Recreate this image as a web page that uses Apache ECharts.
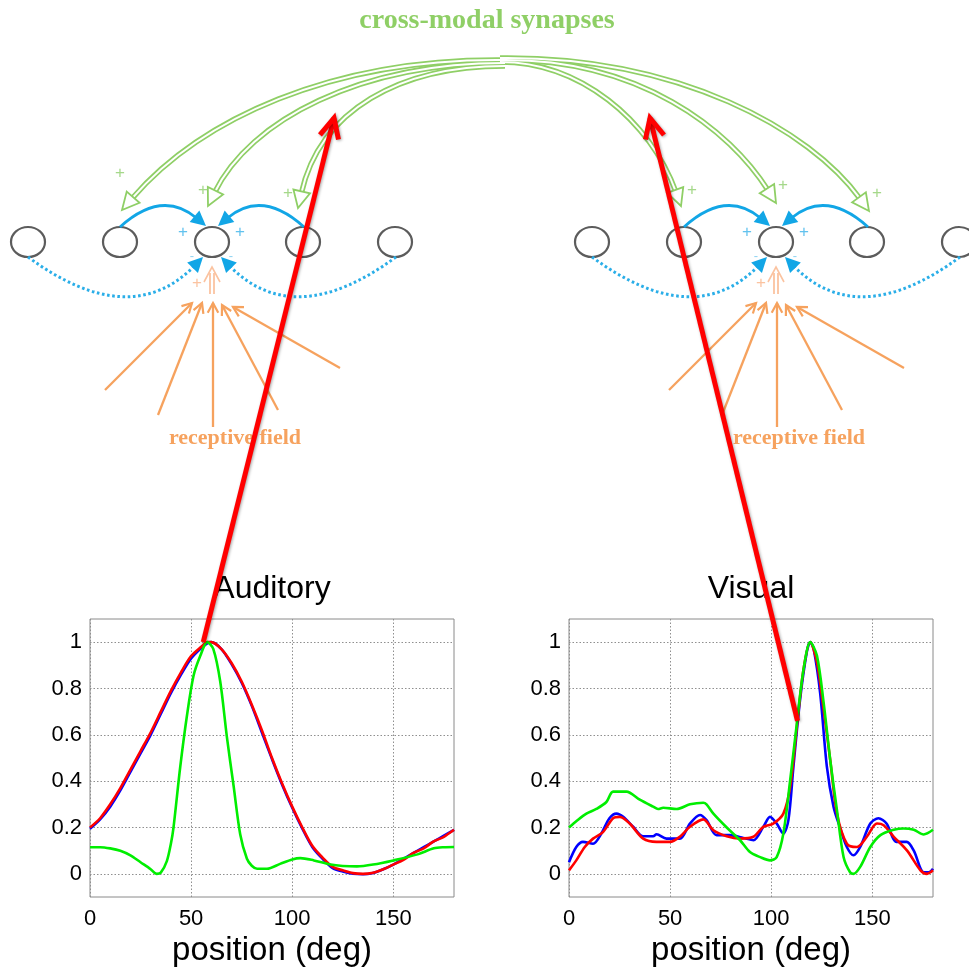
<!DOCTYPE html>
<html><head><meta charset="utf-8">
<script src="https://cdn.jsdelivr.net/npm/echarts@6/dist/echarts.min.js"></script>
<style>html,body{margin:0;padding:0;background:#fff}#c{width:969px;height:974px}</style>
</head><body><div id="c"></div>
<script>
// ---------------- data ----------------
const panelTitles = ['Auditory', 'Visual'];
const xAxisName = 'position (deg)';
const xTicks = [0, 50, 100, 150];
const yTicks = [0, 0.2, 0.4, 0.6, 0.8, 1];

const audX = [0,5,10,15,20,25,30,35,40,45,50,55,58,60,65,70,75,80,85,90,95,100,105,110,115,120,125,130,135,140,145,150,155,160,165,170,175,180];
const audRed = [0.20,0.24,0.30,0.37,0.45,0.53,0.61,0.70,0.79,0.87,0.94,0.98,1.0,1.0,0.97,0.91,0.83,0.73,0.62,0.50,0.39,0.29,0.20,0.12,0.07,0.03,0.015,0.003,0,0.005,0.02,0.04,0.06,0.09,0.11,0.14,0.16,0.19];
const audBlue = [0.195,0.235,0.29,0.36,0.44,0.52,0.60,0.69,0.78,0.86,0.93,0.975,0.995,1.0,0.97,0.905,0.825,0.725,0.61,0.495,0.385,0.285,0.195,0.115,0.065,0.025,0.01,0.0,-0.002,0.004,0.02,0.04,0.065,0.09,0.115,0.14,0.165,0.19];
const audGreen = [[0,0.115],[5,0.115],[10,0.11],[15,0.1],[20,0.08],[25,0.05],[30,0.02],[33,0.0],[35,0.005],[38,0.055],[40,0.13],[41.3,0.2],[44.6,0.46],[47.9,0.68],[51.2,0.855],[54.5,0.94],[58,1.0],[61,0.97],[64.4,0.83],[67.7,0.59],[71,0.38],[74.3,0.17],[77.6,0.065],[80,0.035],[82.6,0.022],[87.5,0.022],[94,0.043],[100,0.062],[104,0.068],[110.7,0.058],[119,0.04],[125,0.034],[132,0.032],[140,0.04],[150,0.058],[162,0.084],[170,0.11],[175,0.115],[180,0.116]];

const visBlue = [[0,0.05],[3.6,0.116],[6.9,0.138],[11.9,0.13],[16,0.174],[20,0.24],[23.5,0.26],[26.8,0.246],[31.7,0.203],[36.7,0.162],[41.6,0.162],[43.3,0.171],[48.2,0.152],[54.8,0.152],[59.8,0.217],[64.8,0.254],[68,0.232],[73,0.167],[79.6,0.167],[86.2,0.155],[91.2,0.145],[96.1,0.203],[99.4,0.246],[102.7,0.217],[106,0.174],[108.5,0.232],[111,0.464],[114.3,0.754],[117.6,0.957],[119.3,1.0],[121,0.97],[124.2,0.78],[127.5,0.464],[130.8,0.29],[134,0.2],[137.4,0.116],[140.7,0.08],[144,0.116],[149,0.217],[153,0.24],[157,0.217],[162,0.138],[167,0.138],[170.5,0.1],[175.4,0.007],[178,0.007],[180,0.022]];
const visRed = [[0,0.015],[3.6,0.058],[7.8,0.116],[11.9,0.152],[16.8,0.18],[21.8,0.24],[25.1,0.246],[30,0.217],[36.7,0.152],[43.3,0.138],[49.9,0.138],[54.8,0.16],[59.8,0.203],[66.4,0.235],[71.4,0.188],[78,0.162],[84.6,0.152],[91.2,0.16],[96.1,0.203],[101,0.217],[106,0.26],[109.4,0.377],[112.7,0.638],[116,0.884],[119.3,1.0],[122.6,0.913],[125.9,0.71],[129.2,0.49],[132.5,0.26],[137.4,0.13],[142.4,0.116],[147.3,0.16],[152.3,0.217],[155.6,0.21],[160.6,0.16],[167.2,0.1],[173.8,0.015],[177,0],[180,0.015]];
const visGreen = [[0,0.2],[4,0.23],[8.6,0.26],[13.5,0.28],[18.5,0.31],[21.8,0.355],[28.4,0.355],[35,0.32],[41.6,0.29],[44,0.28],[46.6,0.285],[53.2,0.28],[59.8,0.3],[66.4,0.307],[68,0.3],[71.4,0.26],[78,0.2],[84.6,0.145],[89.5,0.094],[94.5,0.072],[99.4,0.058],[102.7,0.072],[106,0.174],[109.4,0.406],[112.7,0.652],[116,0.884],[119.3,1.0],[122.6,0.942],[125.9,0.74],[129.2,0.49],[132.5,0.275],[135.8,0.072],[139,0.007],[140.7,0],[144,0.03],[149,0.116],[154,0.167],[160.6,0.19],[165.5,0.196],[170.5,0.19],[175.4,0.17],[180,0.19]];

// points on the curves where the red arrows start (data coords)
const redArrowFrom = [[56, 1.0], [113, 0.66]];

// diagram labels
const diagramTitle = 'cross-modal synapses';
const rfLabel = 'receptive field';

// ---------------- chart ----------------
const chart = echarts.init(document.getElementById('c'), null, {renderer: 'canvas'});
const FONT = 'Liberation Sans, Arial, sans-serif';
const SERIF = 'Liberation Serif, Times New Roman, serif';

const grids = [
  {left: 90, top: 619, width: 364, height: 278},
  {left: 569, top: 619, width: 364, height: 278}
];

function lineSeries(idx, data, color, z) {
  return {type: 'line', xAxisIndex: idx, yAxisIndex: idx, data: data, showSymbol: false,
    smooth: 0.3, z: z, lineStyle: {color: color, width: 2.6}, itemStyle: {color: color}};
}

const option = {
  animation: false,
  backgroundColor: '#fff',
  title: panelTitles.map((t, i) => ({
    text: t, left: grids[i].left + grids[i].width / 2, top: 573, textAlign: 'center', padding: 0,
    textStyle: {fontSize: 32, fontWeight: 'normal', color: '#000', fontFamily: FONT}
  })),
  grid: grids.map(g => Object.assign({show: true, borderColor: '#8a8a8a', borderWidth: 1, containLabel: false}, g)),
  xAxis: [0, 1].map(i => ({
    type: 'value', gridIndex: i, min: 0, max: 180,
    axisLine: {show: false}, axisTick: {show: false, customValues: xTicks},
    axisLabel: {customValues: xTicks, fontSize: 22, color: '#000', margin: 11, fontFamily: FONT},
    splitLine: {show: true, lineStyle: {type: [1.5, 2], color: '#8f8f8f', width: 1}},
    name: xAxisName, nameLocation: 'middle', nameGap: 37,
    nameTextStyle: {fontSize: 33, color: '#000', fontFamily: FONT}
  })),
  yAxis: [0, 1].map(i => ({
    type: 'value', gridIndex: i, min: -0.1, max: 1.1,
    axisLine: {show: false}, axisTick: {show: false, customValues: yTicks},
    axisLabel: {customValues: yTicks, fontSize: 22, color: '#000', margin: 8, fontFamily: FONT},
    splitLine: {show: true, lineStyle: {type: [1.5, 2], color: '#8f8f8f', width: 1}}
  })),
  series: [
    lineSeries(0, audX.map((x, k) => [x, audBlue[k]]), '#0000ff', 2),
    lineSeries(0, audX.map((x, k) => [x, audRed[k]]), '#ff0000', 3),
    lineSeries(0, audGreen, '#00ee00', 4),
    lineSeries(1, visBlue, '#0000ff', 2),
    lineSeries(1, visRed, '#ff0000', 3),
    lineSeries(1, visGreen, '#00ee00', 4)
  ]
};
chart.setOption(option);

// ---------------- diagram (graphic) ----------------
const GREEN = '#8fcf66', BLUE = '#12a6e6', ORANGE = '#f6a25e', PALE = '#fbc3a0', GRAY = '#5c5c5c';
const els = [];
function unit(fx, fy, tx, ty) { const dx = tx - fx, dy = ty - fy, d = Math.hypot(dx, dy); return [dx / d, dy / d]; }
function tri(tx, ty, fx, fy, len, hw) {
  const [ux, uy] = unit(fx, fy, tx, ty); const bx = tx - ux * len, by = ty - uy * len;
  return [[tx, ty], [bx - uy * hw, by + ux * hw], [bx + uy * hw, by - ux * hw]];
}
function vHead(tx, ty, fx, fy, len, ang) {
  const [ux, uy] = unit(fx, fy, tx, ty); const c = Math.cos(ang), s = Math.sin(ang);
  const a = [tx - len * (ux * c - uy * s), ty - len * (uy * c + ux * s)];
  const b = [tx - len * (ux * c + uy * s), ty - len * (uy * c - ux * s)];
  return [a, [tx, ty], b];
}
function txt(x, y, t, size, color, font, weight, z) {
  els.push({type: 'text', x: x, y: y, z: z || 10, style: {text: t, fontSize: size, fill: color,
    fontFamily: font || FONT, fontWeight: weight || 'normal', align: 'center', verticalAlign: 'middle'}});
}

function network(cx) {
  const cy = 242;
  // blue solid arcs (top)
  [-1, 1].forEach(sgn => {
    const sx = cx + sgn * 92, sy = 227, cpx = cx + sgn * 50, cpy = 189, tx = cx + sgn * 6, ty = 226;
    const [ux, uy] = unit(cpx, cpy, tx, ty); const ex = tx - ux * 12, ey = ty - uy * 12;
    els.push({type: 'bezierCurve', z: 8, shape: {x1: sx, y1: sy, x2: ex, y2: ey, cpx1: cpx, cpy1: cpy},
      style: {stroke: BLUE, lineWidth: 2.8, fill: null}});
    els.push({type: 'polygon', z: 9, shape: {points: tri(tx, ty, cpx, cpy, 15, 7.5)}, style: {fill: BLUE}});
  });
  // blue dotted arcs (bottom)
  [-1, 1].forEach(sgn => {
    const sx = cx + sgn * 184, sy = 257, cpx = cx + sgn * 82, cpy = 332, tx = cx + sgn * 9, ty = 257;
    const [ux, uy] = unit(cpx, cpy, tx, ty); const ex = tx - ux * 12, ey = ty - uy * 12;
    els.push({type: 'bezierCurve', z: 8, shape: {x1: sx, y1: sy, x2: ex, y2: ey, cpx1: cpx, cpy1: cpy},
      style: {stroke: '#2aaee8', lineWidth: 3, lineDash: [2.6, 2.6], fill: null}});
    els.push({type: 'polygon', z: 9, shape: {points: tri(tx, ty, cpx, cpy, 15, 7.5)}, style: {fill: BLUE}});
  });
  // neurons
  [-184, -92, 0, 91, 183].forEach(d => {
    els.push({type: 'ellipse', z: 7, shape: {cx: cx + d, cy: cy, rx: 17, ry: 15},
      style: {fill: '#fff', stroke: GRAY, lineWidth: 2.2}});
  });
  // blue + and - signs
  txt(cx - 29, 232, '+', 17, '#62c2ee');
  txt(cx + 28, 232, '+', 17, '#62c2ee');
  txt(cx - 20, 256, '-', 13, '#8fd3f2');
  txt(cx + 19, 256, '-', 13, '#8fd3f2');
  // pale orange double-arrow (external input)
  els.push({type: 'polyline', z: 8, shape: {points: [[cx - 2, 294], [cx - 2, 273]]}, style: {stroke: PALE, lineWidth: 1.8}});
  els.push({type: 'polyline', z: 8, shape: {points: [[cx + 2, 294], [cx + 2, 273]]}, style: {stroke: PALE, lineWidth: 1.8}});
  els.push({type: 'polyline', z: 8, shape: {points: [[cx - 8, 282], [cx, 267], [cx + 8, 282]]}, style: {stroke: PALE, lineWidth: 1.6, fill: null}});
  txt(cx - 15, 283, '+', 17, PALE);
  // orange receptive-field lines
  const rf = [[-107, 148, -20, 61], [-54, 173, -10, 61], [1, 185, 1, 61], [66, 168, 10, 63], [128, 126, 21, 65]];
  rf.forEach(([a, b, c, d]) => {
    const fx = cx + a, fy = cy + b, tx = cx + c, ty = cy + d;
    els.push({type: 'polyline', z: 8, shape: {points: [[fx, fy], [tx, ty]]}, style: {stroke: ORANGE, lineWidth: 2.3}});
    els.push({type: 'polyline', z: 8, shape: {points: vHead(tx, ty, fx, fy, 11, 0.5)}, style: {stroke: ORANGE, lineWidth: 2.2, fill: null}});
  });
  txt(cx + 23, 438, rfLabel, 22, ORANGE, SERIF, 'bold');
}
network(212);
network(776);

// green cross-modal arcs: start, cp1, cp2, tip
const gArcs = [
  [[505, 60], [330, 58], [200, 120], [122, 210]],
  [[505, 63], [360, 63], [250, 120], [208, 206]],
  [[505, 66], [400, 66], [320, 110], [298, 208]],
  [[500, 62], [580, 62], [650, 120], [681, 206]],
  [[500, 60], [640, 58], [730, 130], [776, 203]],
  [[500, 58], [680, 56], [810, 130], [869, 211]]
];
const gParts = gArcs.map(([s, c1, c2, t]) => {
  const [ux, uy] = unit(c2[0], c2[1], t[0], t[1]);
  const e = [t[0] - ux * 15, t[1] - uy * 15];
  return {s, c1, c2, t, e};
});
gParts.forEach(p => els.push({type: 'bezierCurve', z: 5, shape: {x1: p.s[0], y1: p.s[1], x2: p.e[0], y2: p.e[1],
  cpx1: p.c1[0], cpy1: p.c1[1], cpx2: p.c2[0], cpy2: p.c2[1]}, style: {stroke: GREEN, lineWidth: 5.4, fill: null}}));
gParts.forEach(p => els.push({type: 'bezierCurve', z: 6, shape: {x1: p.s[0], y1: p.s[1], x2: p.e[0], y2: p.e[1],
  cpx1: p.c1[0], cpy1: p.c1[1], cpx2: p.c2[0], cpy2: p.c2[1]}, style: {stroke: '#fff', lineWidth: 2, fill: null}}));
gParts.forEach(p => els.push({type: 'polygon', z: 6, shape: {points: tri(p.t[0], p.t[1], p.c2[0], p.c2[1], 17, 8.5)},
  style: {fill: '#fff', stroke: GREEN, lineWidth: 1.8}}));
[[120, 173], [203, 190], [288, 193], [692, 190], [783, 185], [877, 193]].forEach(([x, y]) => txt(x, y, '+', 17, '#a5d88a'));
txt(487, 21, diagramTitle, 28, GREEN, SERIF, 'bold');

// red arrows from the curves to the diagram
const redTips = [[334, 118], [650, 118]];
redArrowFrom.forEach((pt, i) => {
  const p = chart.convertToPixel({gridIndex: i}, pt);
  const t = redTips[i];
  els.push({type: 'polyline', z: 50, shape: {points: [p, t]},
    style: {stroke: '#ff0000', lineWidth: 5, shadowBlur: 3, shadowColor: 'rgba(0,0,0,0.35)', shadowOffsetX: 1, shadowOffsetY: 1}});
  els.push({type: 'polyline', z: 50, shape: {points: vHead(t[0], t[1], p[0], p[1], 22, 0.45)},
    style: {stroke: '#ff0000', lineWidth: 5, fill: null, lineJoin: 'miter', shadowBlur: 3, shadowColor: 'rgba(0,0,0,0.35)', shadowOffsetX: 1, shadowOffsetY: 1}});
});

chart.setOption({graphic: {elements: els}});
</script>
</body></html>
